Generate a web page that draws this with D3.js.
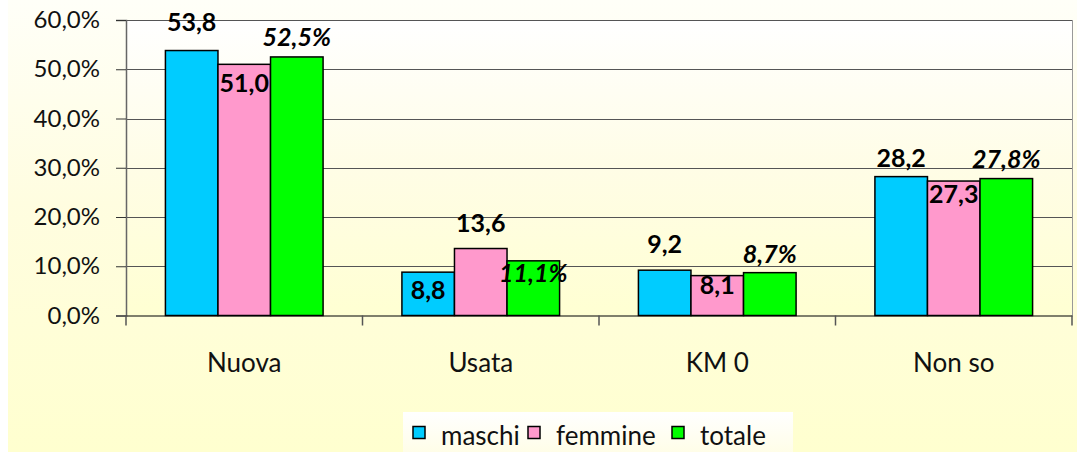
<!DOCTYPE html>
<html>
<head>
<meta charset="utf-8">
<script src="https://cdn.jsdelivr.net/npm/d3@7"></script>
<style>
  body { margin: 0; background: #ffffff; }
  svg { display: block; font-family: Lato, "Open Sans", sans-serif; }
</style>
</head>
<body>
<div id="chart"></div>
<script>
// data
var categories = ["Nuova", "Usata", "KM 0", "Non so"];
var seriesNames = ["maschi", "femmine", "totale"];
var maschi = [53.8, 8.8, 9.2, 28.2];
var femmine = [51.0, 13.6, 8.1, 27.3];
var totale = [52.5, 11.1, 8.7, 27.8];
var yTicks = [0, 10, 20, 30, 40, 50, 60];

// label placement relative to bar top (px, + = inside the bar)
var labelShift = {
  maschi: [-20, 27, -17, -10],
  femmine: [28, -17, 18, 22],
  totale: [-11, 21, -10, -11]
};

var colors = { maschi: "#00ccff", femmine: "#ff99cc", totale: "#00ff00" };

var W = 1077, H = 452;
var plot = { left: 126, right: 1072, top: 20, bottom: 315.5 };

var svg = d3.select("#chart").append("svg").attr("width", W).attr("height", H);

var defs = svg.append("defs");
function grad(id, stops) {
  var g = defs.append("linearGradient").attr("id", id)
    .attr("x1", 0).attr("y1", 0).attr("x2", 0).attr("y2", 1);
  stops.forEach(function (s) {
    g.append("stop").attr("offset", s[0]).attr("stop-color", s[1]);
  });
}
grad("bgGrad", [[0, "#fffff8"], [0.45, "#fffde0"], [1, "#ffffcf"]]);
grad("plotGrad", [[0, "#ffffff"], [0.5, "#fffde6"], [1, "#ffffd2"]]);
grad("legGrad", [[0, "#ffffff"], [1, "#fffde2"]]);

// chart area
svg.append("rect").attr("x", 8).attr("y", 0).attr("width", W - 8).attr("height", H)
  .attr("fill", "url(#bgGrad)");

// plot area
svg.append("rect")
  .attr("x", plot.left).attr("y", plot.top)
  .attr("width", plot.right - plot.left).attr("height", plot.bottom - plot.top)
  .attr("fill", "url(#plotGrad)");

var y = d3.scaleLinear().domain([0, 60]).range([plot.bottom, plot.top]);
var x0 = d3.scaleBand().domain(categories).range([plot.left, plot.right]).padding(0);
var x1 = d3.scaleBand().domain(seriesNames).range([0, x0.bandwidth()])
  .paddingInner(0).paddingOuter(0.75);

// gridlines
svg.append("g").selectAll("line").data(yTicks.filter(function (t) { return t > 0; }))
  .enter().append("line")
  .attr("x1", plot.left).attr("x2", plot.right)
  .attr("y1", function (d) { return Math.round(y(d)) + 0.5; })
  .attr("y2", function (d) { return Math.round(y(d)) + 0.5; })
  .attr("stroke", "#555").attr("stroke-width", 1);

// right border of plot area
svg.append("line")
  .attr("x1", plot.right + 0.5).attr("x2", plot.right + 0.5)
  .attr("y1", plot.top).attr("y2", plot.bottom)
  .attr("stroke", "#999");

// y axis
var yAxis = svg.append("g")
  .attr("transform", "translate(" + plot.left + ",0)")
  .call(d3.axisLeft(y).tickValues(yTicks).tickSize(10).tickPadding(16)
    .tickFormat(function (d) { return d.toFixed(1).replace(".", ",") + "%"; }));
yAxis.select(".domain").attr("stroke", "#666").attr("stroke-width", 1.5);
yAxis.selectAll(".tick line").attr("stroke", "#333");
yAxis.selectAll("text").style("font-size", "24px").attr("fill", "#111")
  .attr("font-family", "Lato, sans-serif");

// bars
var series = [
  { name: "maschi", values: maschi },
  { name: "femmine", values: femmine },
  { name: "totale", values: totale }
];

var rows = [];
series.forEach(function (s) {
  s.values.forEach(function (v, i) {
    rows.push({ series: s.name, cat: categories[i], value: v, shift: labelShift[s.name][i] });
  });
});

svg.append("g").selectAll("rect").data(rows).enter().append("rect")
  .attr("x", function (d) { return x0(d.cat) + x1(d.series); })
  .attr("y", function (d) { return y(d.value); })
  .attr("width", x1.bandwidth())
  .attr("height", function (d) { return y(0) - y(d.value); })
  .attr("fill", function (d) { return colors[d.series]; })
  .attr("stroke", "#000").attr("stroke-width", 1.5);

// x axis
var xAxis = svg.append("g")
  .attr("transform", "translate(0," + plot.bottom + ")")
  .call(d3.axisBottom(x0).tickSize(0).tickPadding(38));
xAxis.select(".domain").attr("stroke", "#000").attr("stroke-width", 1.2);
xAxis.selectAll("text").style("font-size", "26px").attr("fill", "#111")
  .attr("font-family", "Lato, sans-serif");

// category separators
var seps = categories.map(function (c) { return x0(c); }).concat([plot.right]);
svg.append("g").selectAll("line").data(seps).enter().append("line")
  .attr("x1", function (d) { return d; }).attr("x2", function (d) { return d; })
  .attr("y1", plot.bottom).attr("y2", plot.bottom + 10)
  .attr("stroke", "#555").attr("stroke-width", 1.5);

// value labels
svg.append("g").selectAll("text").data(rows).enter().append("text")
  .attr("x", function (d) { return x0(d.cat) + x1(d.series) + x1.bandwidth() / 2; })
  .attr("y", function (d) { return y(d.value) + d.shift; })
  .attr("text-anchor", "middle")
  .style("font-size", "25px")
  .style("font-weight", "bold")
  .style("font-style", function (d) { return d.series === "totale" ? "italic" : "normal"; })
  .attr("fill", "#000")
  .text(function (d) {
    var t = d.value.toFixed(1).replace(".", ",");
    return d.series === "totale" ? t + "%" : t;
  });

// legend
var legend = svg.append("g");
legend.append("rect").attr("x", 403).attr("y", 412).attr("width", 390).attr("height", 50)
  .attr("fill", "url(#legGrad)");
var legX = [413, 528, 672];
seriesNames.forEach(function (s, i) {
  legend.append("rect").attr("x", legX[i]).attr("y", 426.5).attr("width", 12).attr("height", 12)
    .attr("fill", colors[s]).attr("stroke", "#000").attr("stroke-width", 1.5);
  legend.append("text").attr("x", legX[i] + 28).attr("y", 445)
    .style("font-size", "26px").attr("fill", "#111").text(s);
});
</script>
</body>
</html>
